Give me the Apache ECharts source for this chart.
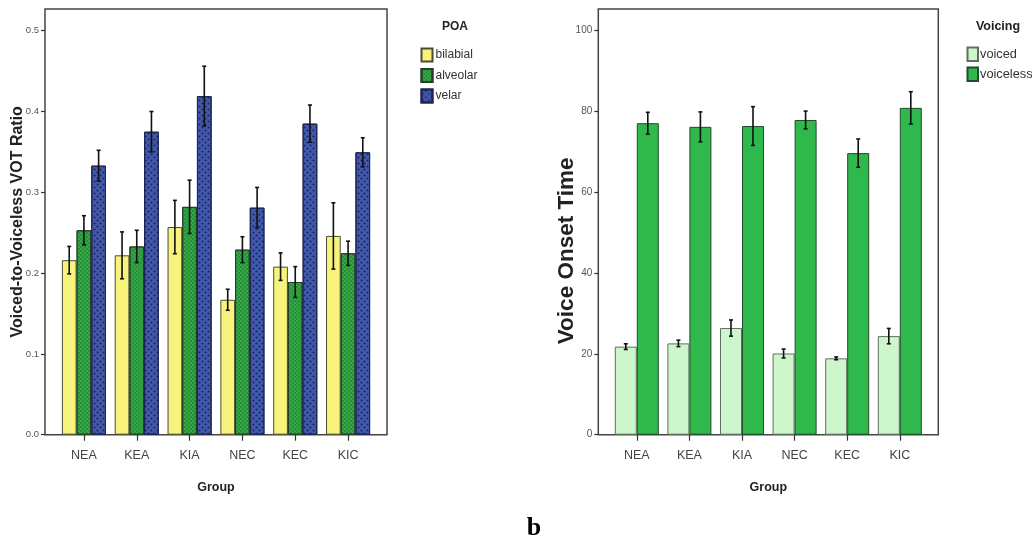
<!DOCTYPE html>
<html>
<head>
<meta charset="utf-8">
<script src="https://cdn.jsdelivr.net/npm/echarts@6/dist/echarts.min.js"></script>
<style>
html,body{margin:0;padding:0;background:#fff;}
#chart{width:1032px;height:539px;}
</style>
</head>
<body>
<div id="chart"></div>
<script>
// ---- data ----
const categories = ['NEA', 'KEA', 'KIA', 'NEC', 'KEC', 'KIC'];
const bilabial    = [0.216, 0.222, 0.257, 0.167, 0.208, 0.246];
const bilabialErr = [0.017, 0.029, 0.033, 0.013, 0.017, 0.041];
const alveolar    = [0.253, 0.233, 0.282, 0.229, 0.189, 0.2245];
const alveolarErr = [0.018, 0.020, 0.033, 0.016, 0.019, 0.015];
const velar       = [0.333, 0.375, 0.419, 0.281, 0.385, 0.3495];
const velarErr    = [0.019, 0.025, 0.037, 0.025, 0.023, 0.018];
const voiced       = [21.8, 22.6, 26.4, 20.1, 18.9, 24.4];
const voicedErr    = [0.7, 0.8, 2.0, 1.1, 0.35, 1.9];
const voiceless    = [77.1, 76.2, 76.4, 77.9, 69.7, 80.9];
const voicelessErr = [2.7, 3.7, 4.8, 2.2, 3.5, 4.0];
const ratioTicks = { min: 0, max: 0.5, interval: 0.1 };
const votTicks = { min: 0, max: 100, interval: 20 };

// ---- styles ----
const SANS = "'Liberation Sans', Arial, sans-serif";
const LBW = 14.7;   // left bar width
const RBW = 22;     // right bar width

const chart = echarts.init(document.getElementById('chart'));

function errSeries(name, xi, yi, vals, errs, n, idx, bw) {
  return {
    type: 'custom', name: name + ' err', xAxisIndex: xi, yAxisIndex: yi, z: 10,
    silent: true,
    data: vals.map((v, i) => [i, v, errs[i]]),
    renderItem: function (params, api) {
      const x = api.value(0), v = api.value(1), e = api.value(2);
      const hi = api.coord([x, v + e]);
      const lo = api.coord([x, v - e]);
      const cx = hi[0] + (idx - (n - 1) / 2) * bw;
      const st = { stroke: '#111', lineWidth: 1.6 };
      const cap = 2;
      return {
        type: 'group', children: [
          { type: 'line', shape: { x1: cx, y1: hi[1], x2: cx, y2: lo[1] }, style: st },
          { type: 'line', shape: { x1: cx - cap, y1: hi[1], x2: cx + cap, y2: hi[1] }, style: st },
          { type: 'line', shape: { x1: cx - cap, y1: lo[1], x2: cx + cap, y2: lo[1] }, style: st }
        ]
      };
    }
  };
}

const frameAxisX = (gi, name) => ({
  gridIndex: gi, type: 'value', min: 0, max: 1, show: true,
  axisLine: { show: false }, axisTick: { show: false }, axisLabel: { show: false }, splitLine: { show: false },
  name: name, nameLocation: 'middle', nameGap: 46,
  nameTextStyle: { fontFamily: SANS, fontWeight: 'bold', fontSize: 12.5, color: '#222' }
});
const frameAxisY = (gi, name, size, gap, pad) => ({
  gridIndex: gi, type: 'value', min: 0, max: 1, show: true,
  axisLine: { show: false }, axisTick: { show: false }, axisLabel: { show: false }, splitLine: { show: false },
  name: name, nameLocation: 'middle', nameGap: gap,
  nameTextStyle: { fontFamily: SANS, fontWeight: 'bold', fontSize: size, color: '#222', padding: pad }
});
const catAxis = (gi) => ({
  gridIndex: gi, type: 'category', data: categories,
  axisLine: { show: false },
  axisTick: { show: true, alignWithLabel: true, length: 6, lineStyle: { color: '#333', width: 1.2 } },
  axisLabel: { fontFamily: SANS, fontSize: 12.5, color: '#444', margin: 14 },
  splitLine: { show: false }
});
const valAxis = (gi, t, fmt, off, fs) => ({
  gridIndex: gi, type: 'value', min: t.min, max: t.max, interval: t.interval, offset: off,
  axisLine: { show: false },
  axisTick: { show: true, length: 4, lineStyle: { color: '#333', width: 1.2 } },
  axisLabel: { fontFamily: SANS, fontSize: fs, color: '#555', margin: 6, formatter: fmt },
  splitLine: { show: false }
});

const yellow = { color: '#f7f37c', borderColor: '#4a4a30', borderWidth: 1 };
const green = {
  color: '#36a847', borderColor: '#2a3d2a', borderWidth: 1,
  decal: { symbol: 'rect', symbolSize: 0.7, color: 'rgba(10,80,25,0.55)', dashArrayX: [[2, 2], [0, 2, 2, 0]], dashArrayY: [2, 0], rotation: 0 }
};
const blue = {
  color: '#4159ab', borderColor: '#1e2550', borderWidth: 1,
  decal: { symbol: 'circle', symbolSize: 0.7, color: 'rgba(15,25,80,0.8)', dashArrayX: [[3, 3], [0, 3, 3, 0]], dashArrayY: [3, 0], rotation: 0 }
};
const pale = { color: '#cdf6cd', borderColor: '#5f6f5f', borderWidth: 1 };
const dark = { color: '#2fb84b', borderColor: '#234a2a', borderWidth: 1 };

const option = {
  animation: false,
  backgroundColor: '#fff',
  grid: [
    { left: 45, top: 9, width: 342, height: 425.7, show: true, borderColor: '#444', borderWidth: 1.5, backgroundColor: 'transparent' },
    { left: 57.5, top: 30.7, width: 317, height: 404 },
    { left: 598.3, top: 9, width: 340, height: 425.7, show: true, borderColor: '#444', borderWidth: 1.5, backgroundColor: 'transparent' },
    { left: 610.5, top: 30.7, width: 315.6, height: 404 }
  ],
  xAxis: [
    frameAxisX(0, 'Group'),
    catAxis(1),
    frameAxisX(2, 'Group'),
    catAxis(3)
  ],
  yAxis: [
    frameAxisY(0, 'Voiced-to-Voiceless VOT Ratio', 16, 19.5, 0),
    valAxis(1, ratioTicks, v => v.toFixed(1), 12.5, 9.5),
    frameAxisY(2, 'Voice Onset Time', 22.5, 20, [0, 58, 0, 0]),
    valAxis(3, votTicks, v => String(v), 12.2, 10)
  ],
  title: [
    { text: 'POA', left: 450, top: 16, textAlign: 'center', textStyle: { fontFamily: SANS, fontWeight: 'bold', fontSize: 12, color: '#222' } },
    { text: 'Voicing', left: 993, top: 15, textAlign: 'center', textStyle: { fontFamily: SANS, fontWeight: 'bold', fontSize: 12.5, color: '#222' } },
    { text: 'b', left: 529, top: 510, textAlign: 'center', textStyle: { fontFamily: "'Liberation Serif', 'Times New Roman', serif", fontWeight: 'bold', fontSize: 26, color: '#000' } }
  ],
  legend: [
    {
      data: ['bilabial', 'alveolar', 'velar'], orient: 'vertical', left: 420.5, top: 47.5,
      icon: 'rect', itemWidth: 11, itemHeight: 13, itemGap: 5.5, selectedMode: false, padding: 0,
      textStyle: { fontFamily: SANS, fontSize: 12, color: '#333', padding: [0, 0, 0, -2] }
    },
    {
      data: ['voiced', 'voiceless'], orient: 'vertical', left: 966.5, top: 46.5,
      icon: 'rect', itemWidth: 10.5, itemHeight: 13.5, itemGap: 4.5, selectedMode: false, padding: 0,
      textStyle: { fontFamily: SANS, fontSize: 12.8, color: '#333', padding: [0, 0, 0, -3] }
    }
  ],
  series: [
    { name: 'bilabial', type: 'bar', xAxisIndex: 1, yAxisIndex: 1, data: bilabial, barWidth: LBW, barGap: '0%', itemStyle: yellow },
    { name: 'alveolar', type: 'bar', xAxisIndex: 1, yAxisIndex: 1, data: alveolar, barWidth: LBW, barGap: '0%', itemStyle: green },
    { name: 'velar', type: 'bar', xAxisIndex: 1, yAxisIndex: 1, data: velar, barWidth: LBW, barGap: '0%', itemStyle: blue },
    errSeries('bilabial', 1, 1, bilabial, bilabialErr, 3, 0, LBW),
    errSeries('alveolar', 1, 1, alveolar, alveolarErr, 3, 1, LBW),
    errSeries('velar', 1, 1, velar, velarErr, 3, 2, LBW),
    { name: 'voiced', type: 'bar', xAxisIndex: 3, yAxisIndex: 3, data: voiced, barWidth: RBW, barGap: '0%', itemStyle: pale },
    { name: 'voiceless', type: 'bar', xAxisIndex: 3, yAxisIndex: 3, data: voiceless, barWidth: RBW, barGap: '0%', itemStyle: dark },
    errSeries('voiced', 3, 3, voiced, voicedErr, 2, 0, RBW),
    errSeries('voiceless', 3, 3, voiceless, voicelessErr, 2, 1, RBW)
  ]
};
chart.setOption(option);
</script>
</body>
</html>
